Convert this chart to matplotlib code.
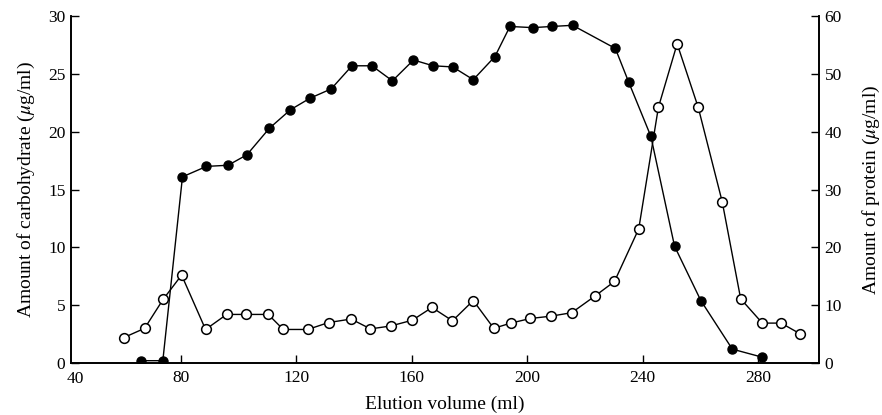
import matplotlib
matplotlib.use("Agg")
import matplotlib.pyplot as plt

plt.rcParams['font.family'] = ['Liberation Serif', 'DejaVu Serif']
plt.rcParams['mathtext.fontset'] = 'stix'

# Carbohydrate (filled circles), left axis
carb_x = [66.1, 73.8, 80.6, 88.9, 96.4, 102.9, 110.7, 118.0, 124.8, 132.1, 139.3,
          146.2, 153.3, 160.6, 167.4, 174.2, 181.3, 188.8, 194.0, 201.9, 208.5,
          215.7, 230.5, 235.1, 242.8, 251.0, 260.1, 271.0, 281.4]
carb_y = [0.2, 0.2, 16.1, 17.0, 17.1, 18.0, 20.3, 21.9, 22.9, 23.7, 25.7,
          25.7, 24.4, 26.2, 25.7, 25.6, 24.5, 26.5, 29.1, 29.0, 29.1,
          29.2, 27.2, 24.3, 19.6, 10.1, 5.4, 1.2, 0.5]

# Protein (open circles), right axis
prot_x = [60.3, 67.5, 73.9, 80.3, 88.6, 95.9, 102.6, 110.3, 115.5, 124.0, 131.2,
          139.0, 145.7, 152.7, 160.2, 167.0, 174.1, 181.3, 188.4, 194.3, 201.1,
          208.2, 215.4, 223.5, 230.2, 238.6, 245.4, 251.9, 259.2, 267.5, 273.9,
          281.4, 287.9, 294.3]
prot_y = [4.4, 6.0, 11.0, 15.2, 5.8, 8.4, 8.4, 8.4, 5.8, 5.8, 7.0,
          7.6, 5.9, 6.4, 7.4, 9.6, 7.3, 10.8, 6.0, 6.9, 7.7,
          8.1, 8.7, 11.6, 14.1, 23.2, 44.2, 55.2, 44.2, 27.9, 11.1,
          6.9, 6.9, 5.1]

x_ticks = [80, 120, 160, 200, 240, 280]
left_ticks = [0, 5, 10, 15, 20, 25, 30]
right_ticks = [0, 10, 20, 30, 40, 50, 60]

fig = plt.figure(figsize=(8.82, 4.15), dpi=100)
ax = fig.add_axes([0.0805, 0.1253, 0.848, 0.836])
ax2 = ax.twinx()

ax.plot(carb_x, carb_y, color='black', linewidth=1.0, marker='o', markersize=6.5,
        markerfacecolor='black', markeredgecolor='black', zorder=3)
ax2.plot(prot_x, prot_y, color='black', linewidth=1.0, marker='o', markersize=7,
         markerfacecolor='white', markeredgecolor='black', markeredgewidth=1.1, zorder=3)

ax.set_xlim(42, 301)
ax.set_ylim(0, 30)
ax2.set_ylim(0, 60)

ax.set_xticks(x_ticks)
ax.set_yticks(left_ticks)
ax2.set_yticks(right_ticks)
# the 40 label sits at the axis corner
ax.text(0.006, -0.022, '40', transform=ax.transAxes, ha='center', va='top', fontsize=12.5)

for a in (ax, ax2):
    a.spines['top'].set_visible(False)
    a.tick_params(direction='in', length=6, width=1, labelsize=12.5)
    for s in a.spines.values():
        s.set_linewidth(1.2)
ax.tick_params(axis='x', pad=5)
ax.tick_params(axis='y', pad=4)
ax2.tick_params(axis='y', pad=4)

ax.set_xlabel('Elution volume (ml)', fontsize=14, labelpad=7)
ax.set_ylabel(r'Amount of carbohydrate ($\mu$g/ml)', fontsize=14, labelpad=8)
ax2.set_ylabel(r'Amount of protein ($\mu$g/ml)', fontsize=14, labelpad=14)

fig.savefig('out.png', dpi=100)
